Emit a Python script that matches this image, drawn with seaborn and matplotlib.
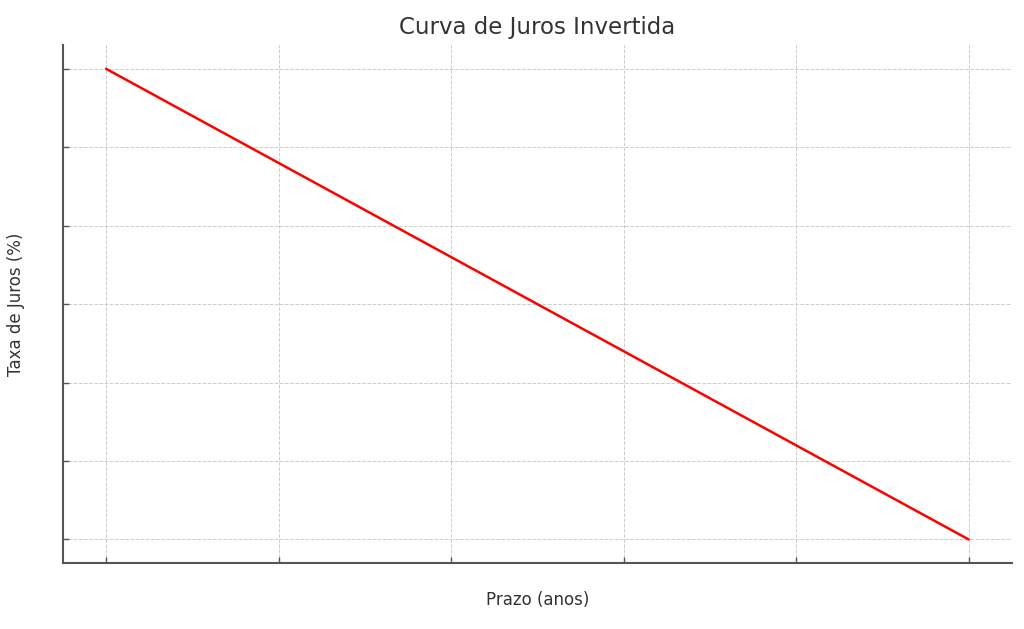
import matplotlib
matplotlib.use("Agg")
import matplotlib.pyplot as plt
import pandas as pd
import seaborn as sns

# prazo (anos) e taxa (%) - curva invertida
prazo = [0, 2, 4, 6, 8, 10]
taxa = [5.0, 4.4, 3.8, 3.2, 2.6, 2.0]

sns.set_style("whitegrid")
plt.rcParams["font.family"] = ["DejaVu Sans"]

df = pd.DataFrame({"prazo": prazo, "taxa": taxa})

fig = plt.figure(figsize=(10.24, 6.29), dpi=100)
ax = fig.add_axes([0.0615, 0.105, 0.9265, 0.823])
sns.lineplot(data=df, x="prazo", y="taxa", color="red", linewidth=1.8, ax=ax)

ax.grid(True, linestyle="--", color="#cccccc", linewidth=0.7)
for side in ["top", "right"]:
    ax.spines[side].set_visible(False)
for side in ["left", "bottom"]:
    ax.spines[side].set_color("#555555")
    ax.spines[side].set_linewidth(1.5)
ax.tick_params(direction="in", length=4, width=1, color="#555555",
               left=True, bottom=True, labelleft=False, labelbottom=False)

ax.set_title("Curva de Juros Invertida", fontsize=16.5, color="#333333", pad=8)
ax.set_xlabel("Prazo (anos)", fontsize=12, color="#333333", labelpad=20.5)
ax.set_ylabel("Taxa de Juros (%)", fontsize=12, color="#333333", labelpad=27)

fig.savefig("out.png", dpi=100)
